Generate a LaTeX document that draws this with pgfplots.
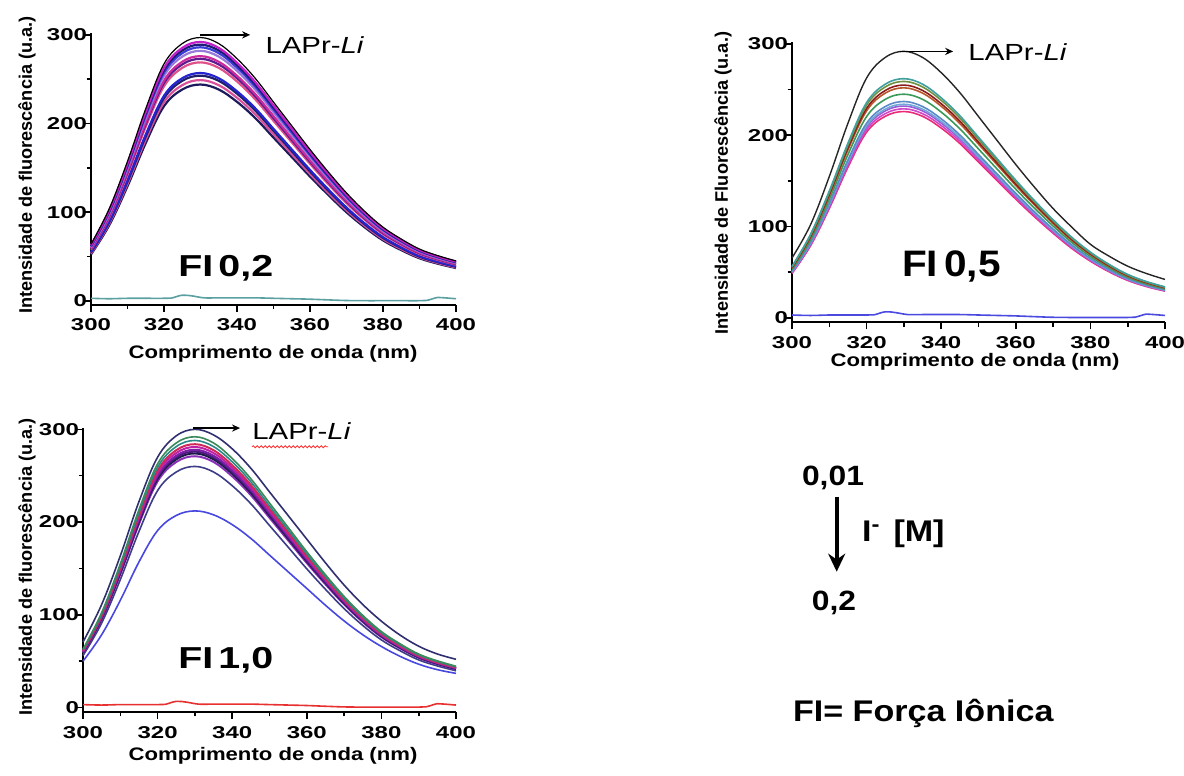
\documentclass[border=0pt]{standalone}
\usepackage{fontspec}
\setmainfont{Liberation Sans}
\newfontfamily\tkf[FakeStretch=1.4]{Liberation Sans}
\newfontfamily\lbf[FakeStretch=1.22]{Liberation Sans}
\newfontfamily\laf[FakeStretch=1.26]{Liberation Sans}
\newfontfamily\fif[FakeStretch=1.3]{Liberation Sans}
\newfontfamily\fib[FakeStretch=1.1]{Liberation Sans}
\newfontfamily\rtf[FakeStretch=1.14]{Liberation Sans}
\usepackage{pgfplots}
\pgfplotsset{compat=1.18}
\usepackage{pgfplotstable}
\usetikzlibrary{arrows.meta,decorations.pathmorphing}

% panel 1 colours
\definecolor{pAb}{HTML}{C21FC8}
\definecolor{pAc}{HTML}{1C1C78}
\definecolor{pAd}{HTML}{3A3AD8}
\definecolor{pAe}{HTML}{9A7AD8}
\definecolor{pAf}{HTML}{CC2A9C}
\definecolor{pAg}{HTML}{5C1C90}
\definecolor{pAh}{HTML}{E0508A}
\definecolor{pAi}{HTML}{2424D0}
\definecolor{pAj}{HTML}{20206A}
\definecolor{pAk}{HTML}{D8509A}
\definecolor{pAl}{HTML}{1A1A5C}
\definecolor{baseA}{HTML}{5AA0A0}
% panel 2 colours
\definecolor{pBb}{HTML}{40A0A0}
\definecolor{pBc}{HTML}{709040}
\definecolor{pBd}{HTML}{8C1C1C}
\definecolor{pBe}{HTML}{B8582A}
\definecolor{pBf}{HTML}{3A9A5A}
\definecolor{pBg}{HTML}{5A8AC8}
\definecolor{pBh}{HTML}{70A8D8}
\definecolor{pBi}{HTML}{9A5AD8}
\definecolor{pBj}{HTML}{D048C8}
\definecolor{pBk}{HTML}{EA2C78}
\definecolor{baseB}{HTML}{4A4AE0}
% panel 3 colours
\definecolor{pCa}{HTML}{303070}
\definecolor{pCb}{HTML}{3A8A5A}
\definecolor{pCc}{HTML}{2A8888}
\definecolor{pCd}{HTML}{D02858}
\definecolor{pCe}{HTML}{C020A8}
\definecolor{pCf}{HTML}{7A20A8}
\definecolor{pCg}{HTML}{4A1A7A}
\definecolor{pCh}{HTML}{1A1A48}
\definecolor{pCi}{HTML}{8A30B8}
\definecolor{pCj}{HTML}{3C3C88}
\definecolor{pCk}{HTML}{4848E0}
\definecolor{baseC}{HTML}{E83030}

\pgfplotstableread{
x a b c d e f g h i j k l
300 63.9 62.8 62.1 61.5 60.6 59.3 58.7 57.8 55.3 54.6 53.5 52.5
305 104.0 102.2 101.2 100.1 98.7 96.6 95.6 94.2 90.0 88.9 87.2 85.4
310 157.4 154.8 153.2 151.6 149.5 146.3 144.7 142.6 136.2 134.6 132.0 129.3
315 216.8 213.2 211.0 208.8 205.9 201.5 199.3 196.4 187.6 185.4 181.8 178.1
320 267.3 262.8 260.1 257.4 253.8 248.4 245.7 242.1 231.3 228.6 224.1 219.6
325 290.2 285.3 282.4 279.4 275.5 269.7 266.7 262.8 251.1 248.2 243.3 238.4
330 297 292 289 286 282 276 273 269 257 254 249 244
335 290.2 285.3 282.4 279.4 275.5 269.7 266.7 262.8 251.1 248.2 243.3 238.4
340 273.2 268.6 265.9 263.1 259.4 253.9 251.2 247.5 236.4 233.7 229.1 224.5
345 251.0 246.7 244.2 241.7 238.3 233.2 230.7 227.3 217.2 214.6 210.4 206.2
350 224.2 220.5 218.2 215.9 212.9 208.4 206.1 203.1 194.0 191.8 188.0 184.2
355 197.5 194.2 192.2 190.2 187.5 183.5 181.5 178.9 170.9 168.9 165.6 162.3
360 170.8 167.9 166.2 164.5 162.2 158.7 157.0 154.7 147.8 146.1 143.2 140.3
365 145.5 143.1 141.6 140.1 138.2 135.2 133.8 131.8 125.9 124.5 122.0 119.6
370 121.8 119.7 118.5 117.3 115.6 113.2 111.9 110.3 105.4 104.1 102.1 100.0
375 101.0 99.3 98.3 97.2 95.9 93.8 92.8 91.5 87.4 86.4 84.7 83.0
380 83.2 81.8 80.9 80.1 79.0 77.3 76.4 75.3 72.0 71.1 69.7 68.3
385 69.8 68.6 67.9 67.2 66.3 64.9 64.2 63.2 60.4 59.7 58.5 57.3
390 58.5 57.5 56.9 56.3 55.6 54.4 53.8 53.0 50.6 50.0 49.1 48.1
395 51.1 50.2 49.7 49.2 48.5 47.5 47.0 46.3 44.2 43.7 42.8 42.0
400 45.1 44.4 43.9 43.5 42.9 42.0 41.5 40.9 39.1 38.6 37.8 37.1
}\pA

\pgfplotstableread{
x a b c d e f g h i j k
300 65.5 56.3 55.7 54.8 54.2 52.7 51.0 50.3 49.9 49.2 48.6
305 102.2 91.7 90.7 89.3 88.2 85.8 83.0 81.9 81.2 80.2 79.1
310 154.8 138.9 137.3 135.2 133.6 129.9 125.6 124.0 123.0 121.4 119.8
315 213.2 191.3 189.1 186.2 184.0 178.9 173.0 170.8 169.4 167.2 165.0
320 262.8 235.8 233.1 229.5 226.8 220.5 213.3 210.6 208.8 206.1 203.4
325 285.3 256.0 253.0 249.1 246.2 239.4 231.5 228.6 226.7 223.7 220.8
330 292 262 259 255 252 245 237 234 232 229 226
335 285.3 256.0 253.0 249.1 246.2 239.4 231.5 228.6 226.7 223.7 220.8
340 268.6 241.0 238.3 234.6 231.8 225.4 218.0 215.3 213.4 210.7 207.9
345 246.7 221.4 218.9 215.5 212.9 207.0 200.3 197.7 196.0 193.5 191.0
350 220.5 197.8 195.5 192.5 190.3 185.0 178.9 176.7 175.2 172.9 170.6
355 194.2 174.2 172.2 169.6 167.6 162.9 157.6 155.6 154.3 152.3 150.3
360 167.9 150.7 148.9 146.6 144.9 140.9 136.3 134.6 133.4 131.7 130.0
365 143.1 128.4 126.9 125.0 123.5 120.1 116.1 114.7 113.7 112.2 110.7
370 119.7 107.4 106.2 104.6 103.3 100.5 97.2 95.9 95.1 93.9 92.7
375 99.3 88.2 87.2 85.8 84.8 82.5 79.8 78.8 78.1 77.1 76.0
380 80.5 71.9 71.1 70.0 69.2 67.2 65.1 64.2 63.7 62.8 62.0
385 67.5 58.5 57.9 56.9 56.2 54.7 52.9 52.3 51.8 51.1 50.4
390 56.5 47.5 46.9 46.2 45.6 44.4 43.0 42.4 42.0 41.5 40.9
395 48.5 39.7 39.2 38.6 38.1 37.0 35.9 35.4 35.1 34.7 34.2
400 42.0 33.8 33.5 33.0 32.6 31.6 30.6 30.3 30.0 29.6 29.2
}\pB

\pgfplotstableread{
x a b c d e f g h i j k
300 70.5 62.8 61.9 61.1 60.4 59.8 59.3 58.9 58.3 55.9 49.8
305 111.0 102.2 100.8 99.4 98.4 97.3 96.6 95.9 94.9 91.0 78.4
310 163.5 154.8 152.6 150.5 148.9 147.3 146.3 145.2 143.6 137.8 115.5
315 222.0 213.2 210.2 207.3 205.1 202.9 201.5 200.0 197.8 189.8 156.9
320 270.0 262.8 259.2 255.6 252.9 250.2 248.4 246.6 243.9 234.0 190.8
325 293.0 285.3 281.4 277.5 274.5 271.6 269.7 267.7 264.8 254.0 207.1
330 300 292 288 284 281 278 276 274 271 260 212
335 294.0 285.3 281.4 277.5 274.5 271.6 269.7 267.7 264.8 254.0 207.8
340 279.0 268.6 265.0 261.3 258.5 255.8 253.9 252.1 249.3 239.2 197.2
345 258.0 246.7 243.4 240.0 237.4 234.9 233.2 231.5 229.0 219.7 182.3
350 232.5 220.5 217.4 214.4 212.2 209.9 208.4 206.9 204.6 196.3 164.3
355 207.0 194.2 191.5 188.9 186.9 184.9 183.5 182.2 180.2 172.9 146.3
360 181.5 167.9 165.6 163.3 161.6 159.9 158.7 157.6 155.8 149.5 128.3
365 156.0 143.1 141.1 139.2 137.7 136.2 135.2 134.3 132.8 127.4 110.2
370 132.0 119.7 118.1 116.4 115.2 114.0 113.2 112.3 111.1 106.6 93.3
375 111.0 99.3 97.9 96.6 95.5 94.5 93.8 93.2 92.1 88.4 78.4
380 93.0 81.8 80.6 79.5 78.7 77.8 77.3 76.7 75.9 72.8 65.7
385 78.0 68.6 67.7 66.7 66.0 65.3 64.9 64.4 63.7 61.1 55.1
390 66.0 57.5 56.7 55.9 55.4 54.8 54.4 54.0 53.4 51.2 46.6
395 57.6 50.2 49.5 48.8 48.3 47.8 47.5 47.1 46.6 44.7 40.7
400 51.9 44.4 43.8 43.2 42.7 42.3 42.0 41.6 41.2 39.5 36.7
}\pC

\pgfplotstableread{
x y
300 3.0
305 2.5
310 3.0
315 3.0
320 3.0
322 3.2
325 6.5
328 5.5
331 3.5
335 3.5
340 3.5
345 3.5
350 3.0
355 2.5
360 2.0
365 1.2
370 0.5
375 0.3
380 0.3
385 0.3
390 0.3
392 0.6
395 4.0
397 3.5
400 2.5
}\base

\pgfplotsset{
  flpanel/.style={
    scale only axis, clip=false,
    axis x line=bottom, axis y line=left,
    axis line style={-, line width=1bp, black},
    xmin=300, xmax=400, ymax=302,
    xtick={300,320,340,360,380,400},
    minor xtick={310,330,350,370,390},
    ytick={0,100,200,300},
    minor ytick={50,150,250},
    tick align=outside,
    major tick length=3.5bp, minor tick length=2.2bp,
    tick style={black, line width=0.8bp},
    /pgf/number format/assume math mode=true,
    ticklabel style={font=\tkf\bfseries\fontsize{8.6}{9}\selectfont, text=black},
    yticklabel style={xshift=5bp},
  },
  cv/.style={no markers, smooth, tension=0.6},
}
\tikzset{
  lab/.style={font=\laf\fontsize{11.7}{12}\selectfont, anchor=base west, inner sep=0pt},
  arr/.style={-{Stealth[length=4bp,width=3.6bp]}, line width=0.7bp, black},
}

\begin{document}
\begin{tikzpicture}
\useasboundingbox (0,0) rectangle (592bp,-388bp);

% ---------- Panel FI 0,2 ----------
\begin{axis}[flpanel, at={(45.5bp,-152.25bp)}, anchor=south west,
  width=182.5bp, height=135.7bp, ymin=-4]
\addplot[cv, pAl, line width=1.1bp] table[x=x,y=l]{\pA};
\addplot[cv, pAk, line width=1.1bp] table[x=x,y=k]{\pA};
\addplot[cv, pAj, line width=1.1bp] table[x=x,y=j]{\pA};
\addplot[cv, pAi, line width=1.1bp] table[x=x,y=i]{\pA};
\addplot[cv, pAh, line width=1.1bp] table[x=x,y=h]{\pA};
\addplot[cv, pAg, line width=1.1bp] table[x=x,y=g]{\pA};
\addplot[cv, pAf, line width=1.1bp] table[x=x,y=f]{\pA};
\addplot[cv, pAe, line width=1.1bp] table[x=x,y=e]{\pA};
\addplot[cv, pAd, line width=1.1bp] table[x=x,y=d]{\pA};
\addplot[cv, pAc, line width=1.1bp] table[x=x,y=c]{\pA};
\addplot[cv, pAb, line width=1.1bp] table[x=x,y=b]{\pA};
\addplot[cv, black, line width=0.6bp] table[x=x,y=a]{\pA};
\addplot[cv, baseA, line width=0.8bp] table[x=x,y=y]{\base};
\draw[arr] (axis cs:329.9,300) -- (axis cs:343.6,300);
\node[lab] at (axis cs:347.7,278.6) {LAPr-\textit{Li}};
\end{axis}

% ---------- Panel FI 0,5 ----------
\begin{axis}[flpanel, at={(396bp,-161.15bp)}, anchor=south west,
  width=186.5bp, height=140.05bp, ymin=-5]
\addplot[cv, pBk, line width=0.8bp] table[x=x,y=k]{\pB};
\addplot[cv, pBj, line width=0.8bp] table[x=x,y=j]{\pB};
\addplot[cv, pBi, line width=0.8bp] table[x=x,y=i]{\pB};
\addplot[cv, pBh, line width=0.8bp] table[x=x,y=h]{\pB};
\addplot[cv, pBg, line width=0.8bp] table[x=x,y=g]{\pB};
\addplot[cv, pBf, line width=0.8bp] table[x=x,y=f]{\pB};
\addplot[cv, pBe, line width=0.8bp] table[x=x,y=e]{\pB};
\addplot[cv, pBd, line width=0.8bp] table[x=x,y=d]{\pB};
\addplot[cv, pBc, line width=0.8bp] table[x=x,y=c]{\pB};
\addplot[cv, pBb, line width=0.8bp] table[x=x,y=b]{\pB};
\addplot[cv, black!85, line width=0.7bp] table[x=x,y=a]{\pB};
\addplot[cv, baseB, line width=0.8bp] table[x=x,y=y]{\base};
\draw[arr] (axis cs:328.95,291.9) -- (axis cs:343.2,291.9);
\node[lab] at (axis cs:347.2,282.1) {LAPr-\textit{Li}};
\end{axis}

% ---------- Panel FI 1,0 ----------
\begin{axis}[flpanel, at={(41.5bp,-356bp)}, anchor=south west,
  width=186.5bp, height=142.25bp, ymin=-5]
\addplot[cv, pCk, line width=0.8bp] table[x=x,y=k]{\pC};
\addplot[cv, pCj, line width=0.8bp] table[x=x,y=j]{\pC};
\addplot[cv, pCi, line width=1.0bp] table[x=x,y=i]{\pC};
\addplot[cv, pCh, line width=1.0bp] table[x=x,y=h]{\pC};
\addplot[cv, pCg, line width=1.0bp] table[x=x,y=g]{\pC};
\addplot[cv, pCf, line width=1.0bp] table[x=x,y=f]{\pC};
\addplot[cv, pCe, line width=1.0bp] table[x=x,y=e]{\pC};
\addplot[cv, pCd, line width=1.0bp] table[x=x,y=d]{\pC};
\addplot[cv, pCc, line width=0.8bp] table[x=x,y=c]{\pC};
\addplot[cv, pCb, line width=0.8bp] table[x=x,y=b]{\pC};
\addplot[cv, pCa, line width=0.8bp] table[x=x,y=a]{\pC};
\addplot[cv, baseC, line width=0.8bp] table[x=x,y=y]{\base};
\draw[arr] (axis cs:329.5,301.4) -- (axis cs:342.1,301.4);
\node[lab] at (axis cs:345.3,289.5) {LAPr-\textit{Li}};
\draw[red!80, line width=0.4bp, decorate, decoration={snake, amplitude=0.5bp, segment length=2bp}]
  (axis cs:345.3,281.2) -- (axis cs:365.7,281.2);
\end{axis}

% ---------- axis titles ----------
\node[font=\lbf\bfseries\fontsize{9.1}{10}\selectfont, anchor=base, inner sep=0pt] at (136.5bp,-179bp) {Comprimento de onda (nm)};
\node[font=\lbf\bfseries\fontsize{9.1}{10}\selectfont, anchor=base, inner sep=0pt] at (487.5bp,-183.35bp) {Comprimento de onda (nm)};
\node[font=\lbf\bfseries\fontsize{9.1}{10}\selectfont, anchor=base, inner sep=0pt] at (136.5bp,-380bp) {Comprimento de onda (nm)};
\node[font=\bfseries\fontsize{9.1}{10}\selectfont, rotate=90, inner sep=0pt] at (13.5bp,-82.5bp) {Intensidade de fluorescência (u.a.)};
\node[font=\bfseries\fontsize{9.1}{10}\selectfont, rotate=90, inner sep=0pt] at (361.5bp,-91.5bp) {Intensidade de Fluorescência (u.a.)};
\node[font=\bfseries\fontsize{9.1}{10}\selectfont, rotate=90, inner sep=0pt] at (13.5bp,-283.5bp) {Intensidade de fluorescência (u.a.)};

% ---------- panel tags ----------
\node[font=\fif\bfseries\fontsize{15.2}{16}\selectfont, anchor=base west, inner sep=0pt] at (89bp,-138.35bp) {FI\,0,2};
\node[font=\fib\bfseries\fontsize{18.5}{19}\selectfont, anchor=base west, inner sep=0pt] at (450.85bp,-138.35bp) {FI\,0,5};
\node[font=\fif\bfseries\fontsize{15.2}{16}\selectfont, anchor=base west, inner sep=0pt] at (89bp,-334.15bp) {FI\,1,0};

% ---------- right annotation ----------
\node[font=\rtf\bfseries\fontsize{14}{15}\selectfont, anchor=base, inner sep=0pt] at (416.5bp,-242.5bp) {0,01};
\draw[line width=2bp, -{Stealth[length=9bp,width=8.5bp]}] (418.35bp,-248.35bp) -- (418.35bp,-285.85bp);
\node[font=\rtf\bfseries\fontsize{15}{16}\selectfont, anchor=base west, inner sep=0pt] at (430.85bp,-270.85bp) {I\textsuperscript{-}\hspace{6.5bp}[M]};
\node[font=\rtf\bfseries\fontsize{14}{15}\selectfont, anchor=base, inner sep=0pt] at (417bp,-305bp) {0,2};
\node[font=\rtf\bfseries\fontsize{15}{16}\selectfont, anchor=base west, inner sep=0pt] at (396.35bp,-360.85bp) {FI= Força Iônica};
\end{tikzpicture}
\end{document}
